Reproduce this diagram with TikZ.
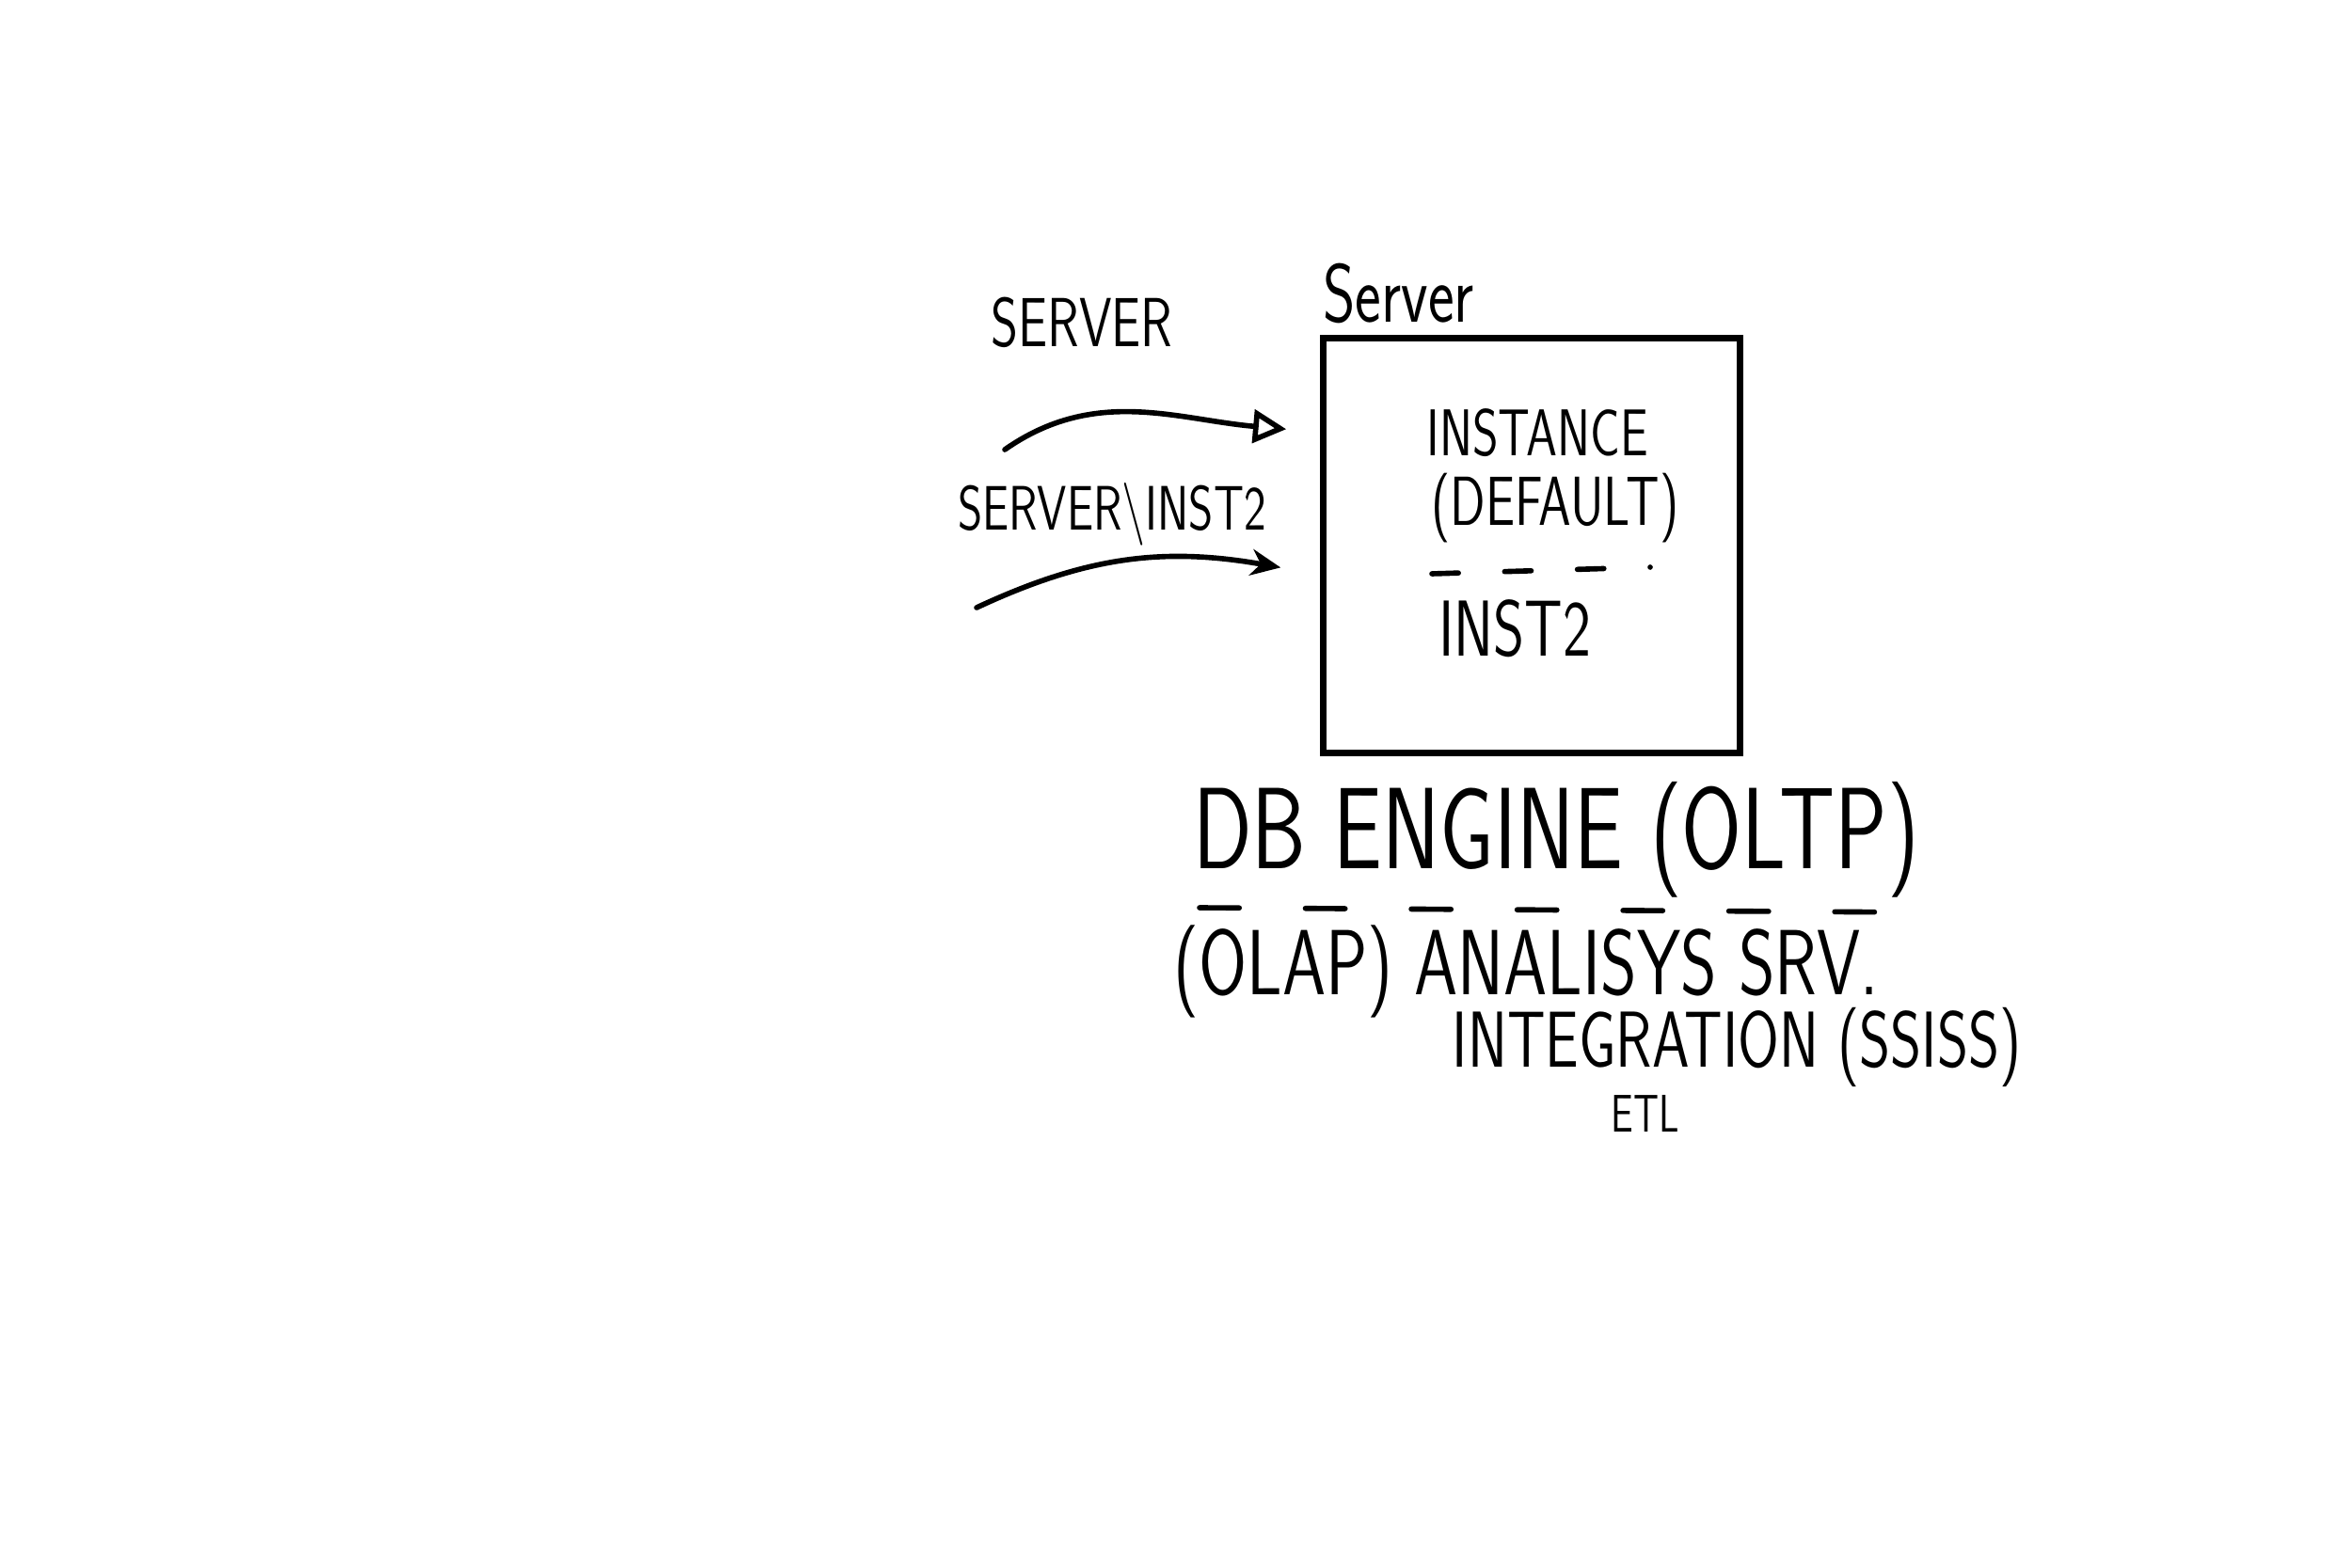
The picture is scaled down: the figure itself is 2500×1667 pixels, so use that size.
\documentclass[tikz,border=0pt]{standalone}
\usepackage{tikz}
\usetikzlibrary{arrows.meta,positioning}

\begin{document}
\begin{tikzpicture}[x=0.01cm,y=-0.01cm,
  hand/.style={font=\sffamily,inner sep=0pt,transform shape,xscale=0.75},
  pen/.style={line width=1.6pt,line cap=round}]
\useasboundingbox[fill=white] (0,0) rectangle (2500,1667);
% box of the server
\node[draw,line width=1.8pt,minimum width=4.43cm,minimum height=4.41cm] (box) at (1628,580) {};
\node[hand,font=\sffamily\fontsize{25}{27}\selectfont,anchor=south west] (srvsmall) at (1406,345) {Server};
\node[hand,font=\sffamily\fontsize{20}{22}\selectfont] (inst) at (1634,460) {INSTANCE};
\node[hand,font=\sffamily\fontsize{21}{23}\selectfont] (deflt) at (1653,540) {(DEFAULT)};
\node[hand,font=\sffamily\fontsize{24}{26}\selectfont] (inst2) at (1610,668) {INST2};
\coordinate (sepL) at (1522,610);
\coordinate (sepR) at (1754,603);
\draw[pen,dash pattern=on 8pt off 14pt] (sepL) -- (sepR);
% names used by the clients
\node[hand,font=\sffamily\fontsize{21}{23}\selectfont] (name1) at (1150,343) {SERVER};
\node[hand,font=\sffamily\fontsize{19}{21}\selectfont] (name2) at (1182,547) {SERVER\textbackslash INST2};
\coordinate (tail1) at (1068,478);
\coordinate (tail2) at (1038,646);
\draw[pen,-{Triangle[open,length=10pt,width=10pt]}] (tail1) to[out=35,in=175] ([xshift=-0.36cm,yshift=-1cm]box.north west);
\draw[pen,-{Stealth[length=9pt,width=8pt]}] (tail2) to[out=25,in=170] ([xshift=-0.42cm,yshift=-2.47cm]box.north west);
% services
\node[hand,font=\sffamily\fontsize{35}{37}\selectfont] (engine) at (1654,893) {DB ENGINE (OLTP)};
\coordinate (sep2L) at (1275,965);
\coordinate (sep2R) at (2048,970);
\draw[pen,dash pattern=on 12pt off 20pt] (sep2L) -- (sep2R);
\node[hand,font=\sffamily\fontsize{28}{30}\selectfont] (olap) at (1622,1033) {(OLAP) ANALISYS SRV.};
\node[hand,font=\sffamily\fontsize{24}{26}\selectfont] (ssis) at (1846,1113) {INTEGRATION (SSISS)};
\node[hand,font=\sffamily\fontsize{16}{18}\selectfont] (etl) at (1749,1184) {ETL};
\end{tikzpicture}
\end{document}
